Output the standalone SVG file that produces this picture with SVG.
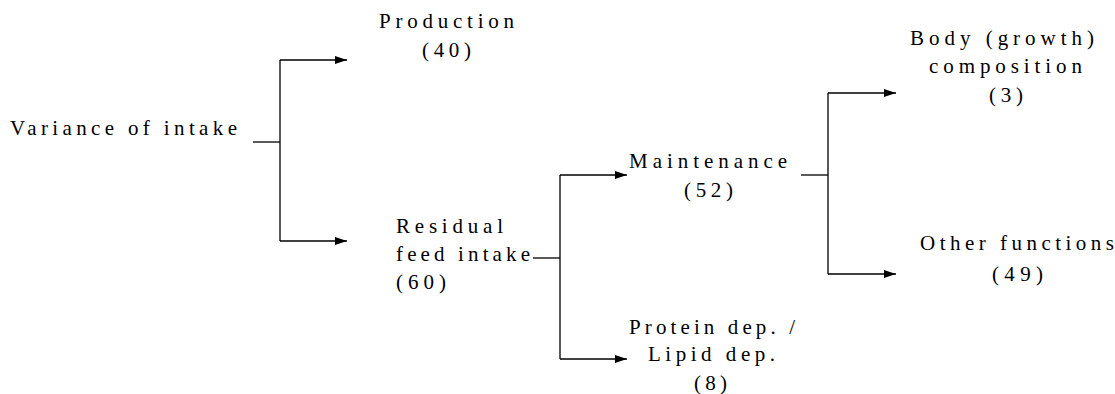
<svg xmlns="http://www.w3.org/2000/svg" width="1115" height="394" viewBox="0 0 1115 394">
<style>
.ln{stroke:#000;stroke-width:1.3;fill:none}
.t{font-family:'Liberation Serif','Times New Roman','DejaVu Serif',serif;font-size:21px;fill:#000}
</style>
<defs>
<marker id="ah" markerWidth="12" markerHeight="8" refX="12" refY="4" orient="auto" markerUnits="userSpaceOnUse">
<path d="M0,0 L12,4 L0,8 Z" fill="#000"/>
</marker>
</defs>
<rect width="1115" height="394" fill="#fff"/>
<g id="connectors">
<path class="ln" d="M253,142 H280"/>
<path class="ln" d="M280,60 V241"/>
<path class="ln" d="M280,60 H347" marker-end="url(#ah)"/>
<path class="ln" d="M280,241 H347" marker-end="url(#ah)"/>
<path class="ln" d="M533,258 H560"/>
<path class="ln" d="M560,175 V359"/>
<path class="ln" d="M560,175 H627" marker-end="url(#ah)"/>
<path class="ln" d="M560,359 H627" marker-end="url(#ah)"/>
<path class="ln" d="M801,175 H828"/>
<path class="ln" d="M828,93 V274"/>
<path class="ln" d="M828,93 H896" marker-end="url(#ah)"/>
<path class="ln" d="M828,274 H896" marker-end="url(#ah)"/>
</g>
<g class="t">
<g id="variance">
<text x="10" y="135" textLength="227" lengthAdjust="spacing">Variance of intake</text>
</g>
<g id="production">
<text x="379" y="28" textLength="135" lengthAdjust="spacing">Production</text>
<text x="422" y="57" textLength="49" lengthAdjust="spacing">(40)</text>
</g>
<g id="residual">
<text x="396" y="233" textLength="107" lengthAdjust="spacing">Residual</text>
<text x="396" y="261" textLength="134" lengthAdjust="spacing">feed intake</text>
<text x="396" y="289" textLength="50" lengthAdjust="spacing">(60)</text>
</g>
<g id="maintenance">
<text x="629" y="168" textLength="158" lengthAdjust="spacing">Maintenance</text>
<text x="684" y="197" textLength="49" lengthAdjust="spacing">(52)</text>
</g>
<g id="deposition">
<text x="629" y="334" textLength="166" lengthAdjust="spacing">Protein dep. /</text>
<text x="648" y="361" textLength="127" lengthAdjust="spacing">Lipid dep.</text>
<text x="694" y="390" textLength="33" lengthAdjust="spacing">(8)</text>
</g>
<g id="body">
<text x="910" y="45" textLength="184" lengthAdjust="spacing">Body (growth)</text>
<text x="929" y="73" textLength="153" lengthAdjust="spacing">composition</text>
<text x="989" y="102" textLength="34" lengthAdjust="spacing">(3)</text>
</g>
<g id="other">
<text x="920" y="250" textLength="194" lengthAdjust="spacing">Other functions</text>
<text x="992" y="281" textLength="51" lengthAdjust="spacing">(49)</text>
</g>
</g>
</svg>
